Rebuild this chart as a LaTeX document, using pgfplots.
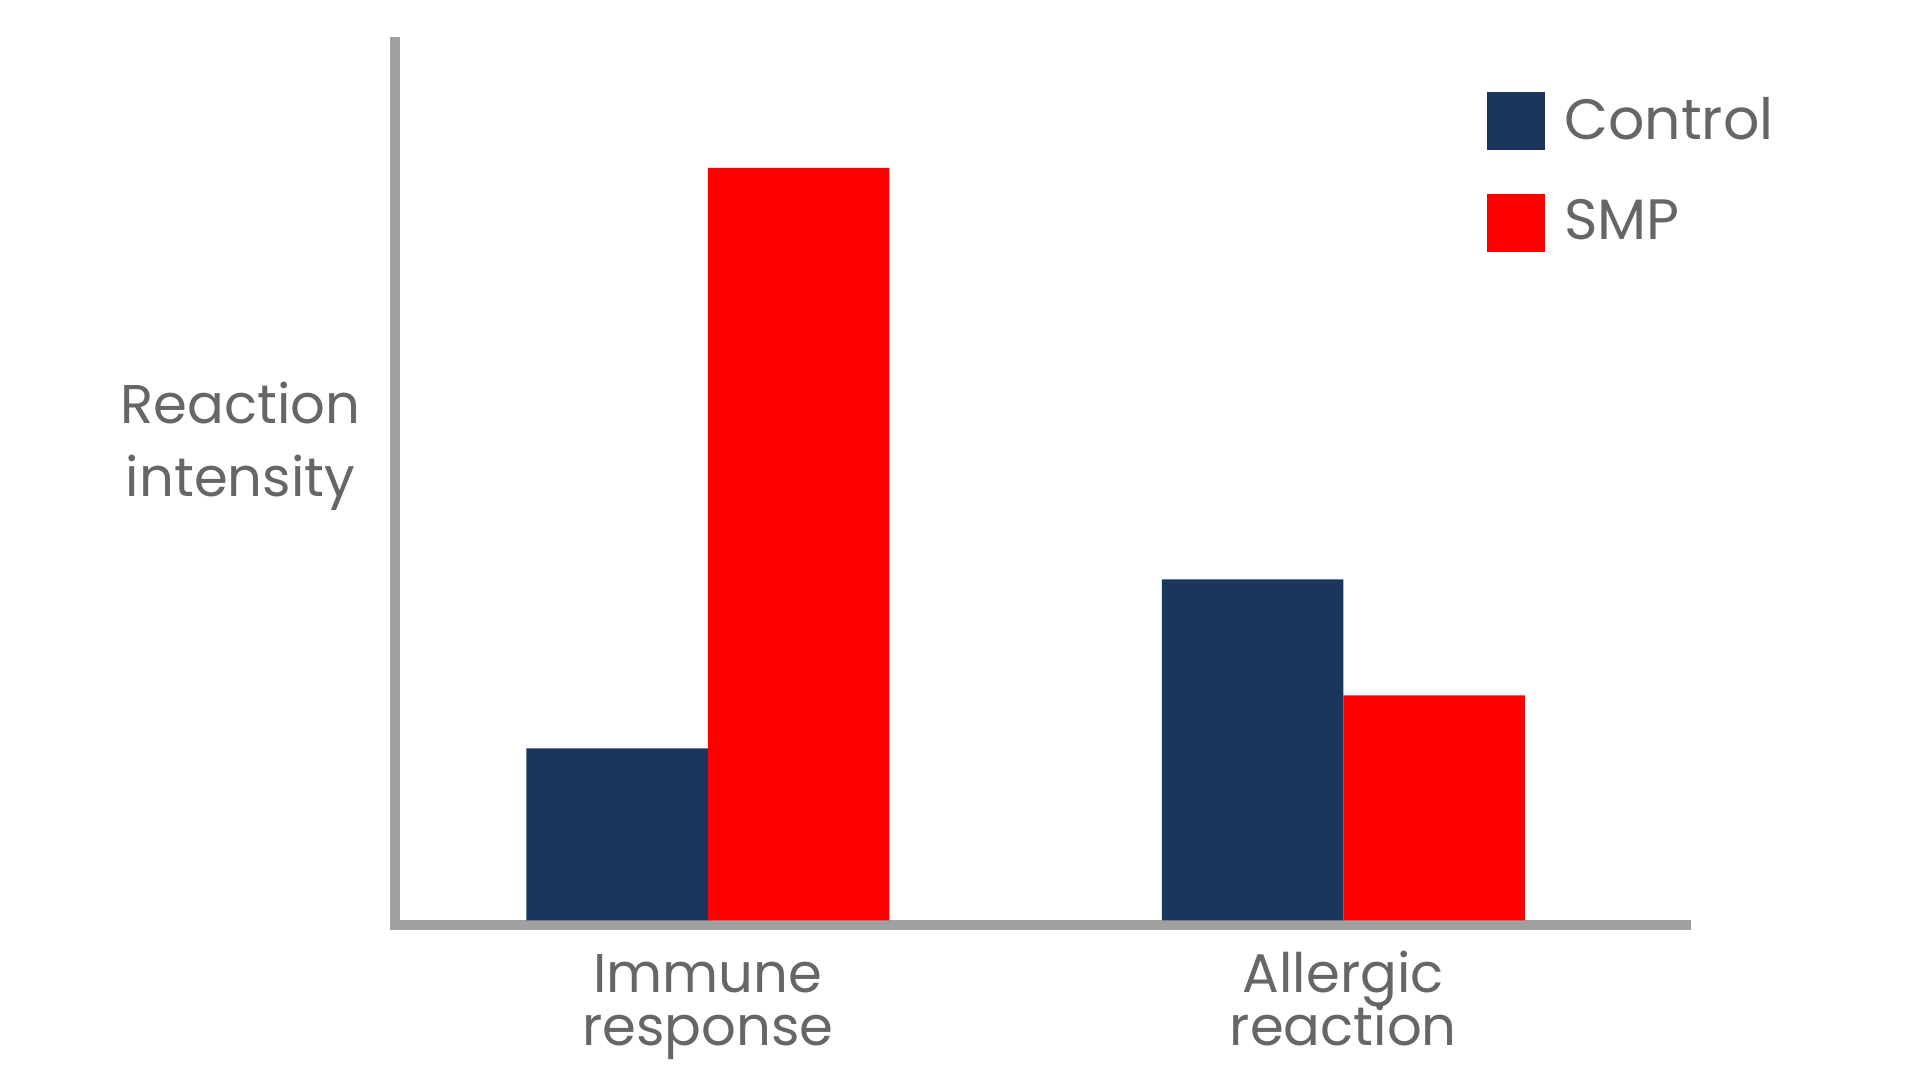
\documentclass[border=0pt]{standalone}
\usepackage{fontspec}
\setmainfont{Poppins}
\usepackage{pgfplots}
\pgfplotsset{compat=1.18}
\definecolor{ctrlblue}{RGB}{26,54,93}
\definecolor{smpred}{RGB}{255,0,0}
\definecolor{axisgray}{RGB}{160,160,160}
\definecolor{labelgray}{RGB}{102,102,102}

\begin{document}
\begin{tikzpicture}
\path[use as bounding box] (0,0) rectangle (19.2,10.8);
\begin{axis}[
    at={(3.953cm,1.547cm)}, anchor=south west,
    scale only axis, width=12.904cm, height=8.836cm,
    xmin=-0.4917, xmax=1.5388, ymin=-5, ymax=878.6,
    axis lines*=left,
    axis line style={line width=0.1cm, axisgray, line cap=rect},
    xtick={0,1},
    xticklabels={{\smash{Immune}\\response},{\smash{Allergic}\\reaction}},
    ytick=\empty,
    major tick length=0pt,
    xticklabel style={align=center, anchor=base, yshift=-1.202cm, text=labelgray,
        font=\fontsize{15.5}{15.2}\selectfont},
    ylabel={Reaction\\intensity},
    every axis y label/.style={at={(axis description cs:-0.11996,0.4851)}, anchor=base,
        align=center, text=labelgray, font=\fontsize{15.5}{20.9}\selectfont},
    legend cell align=left,
    legend style={draw=none, fill=none, inner sep=0pt, outer sep=0pt,
        at={(axis description cs:0.8463,0.9427)}, anchor=north west,
        row sep=0.432cm, font=\fontsize{16.2}{19}\selectfont, text=labelgray,
        nodes={inner sep=0pt},
        /tikz/every odd column/.append style={column sep=0.19cm}},
    legend image code/.code={\fill[#1] (0cm,-0.29cm) rectangle (0.58cm,0.29cm);},
    clip=false,
]
\addplot[ybar, bar width=0.2856, bar shift=-0.1428, fill=ctrlblue, draw=none]
    coordinates {(0,172) (1,341)};
\addplot[ybar, bar width=0.2856, bar shift=0.1428, fill=smpred, draw=none]
    coordinates {(0,752.5) (1,225)};
\legend{Control, SMP}
\end{axis}
\end{tikzpicture}
\end{document}
